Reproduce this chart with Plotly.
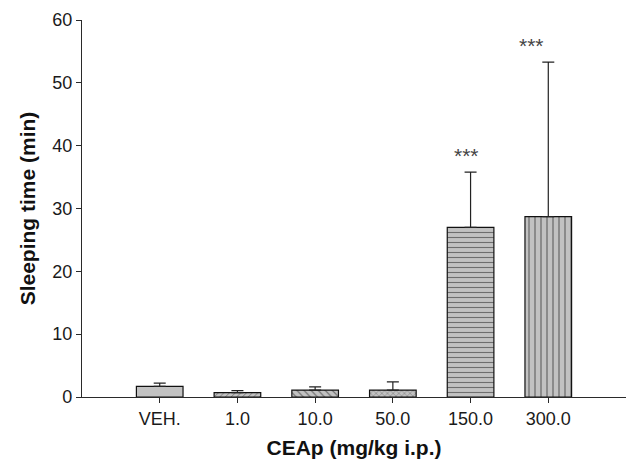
import plotly.graph_objects as go

categories = ["VEH.", "1.0", "10.0", "50.0", "150.0", "300.0"]
sleep_mean = [1.7, 0.7, 1.1, 1.1, 27.0, 28.7]
sleep_sem = [0.5, 0.3, 0.5, 1.3, 8.8, 24.6]
significance = ["", "", "", "", "***", "***"]
y_ticks = [0, 10, 20, 30, 40, 50, 60]

patterns = ["", "/", "\\", "x", "-", "|"]
pattern_sizes = [6, 4, 5, 4, 5, 6]

FONT = "Liberation Sans, Arial, sans-serif"
AXIS_COLOR = "#2a2a2a"

fig = go.Figure()
fig.add_trace(go.Bar(
    x=list(range(len(categories))),
    y=sleep_mean,
    width=0.6,
    marker=dict(
        color="#c2c2c2",
        line=dict(color="#111111", width=1.2),
        pattern=dict(shape=patterns, size=pattern_sizes, fgcolor="#1a1a1a",
                     solidity=0.22),
    ),
    error_y=dict(type="data", symmetric=False, array=sleep_sem,
                 arrayminus=[0] * len(sleep_sem),
                 color="#222222", thickness=1.2, width=6),
    showlegend=False,
))

shifts = [0, 0, 0, 0, -4, -17]
for i, (m, s, lab) in enumerate(zip(sleep_mean, sleep_sem, significance)):
    if lab:
        fig.add_annotation(x=i, y=m + s, text=lab, showarrow=False,
                           xanchor="center", yanchor="bottom",
                           xshift=shifts[i], yshift=3,
                           font=dict(family=FONT, size=21, color="#444444"))

fig.update_layout(
    width=636, height=467,
    margin=dict(l=82, r=10, t=16, b=70),
    paper_bgcolor="white", plot_bgcolor="white",
    font=dict(family=FONT, color="#1a1a1a"),
    bargap=0.4,
)
fig.update_xaxes(
    range=[-1, 6],
    tickmode="array", tickvals=list(range(len(categories))), ticktext=categories,
    ticks="outside", ticklen=5, tickcolor=AXIS_COLOR, tickwidth=1,
    showline=True, linecolor=AXIS_COLOR, linewidth=1.2,
    showgrid=False, zeroline=False,
    tickfont=dict(family=FONT, size=18, color="#1a1a1a"),
    title=dict(text="<b>CEAp (mg/kg i.p.)</b>", standoff=12,
               font=dict(family=FONT, size=21, color="#111111")),
)
fig.update_yaxes(
    range=[0, 60],
    tickmode="array", tickvals=y_ticks,
    ticks="outside", ticklen=5, tickcolor=AXIS_COLOR, tickwidth=1,
    showline=True, linecolor=AXIS_COLOR, linewidth=1.2,
    showgrid=False, zeroline=False,
    tickfont=dict(family=FONT, size=18, color="#1a1a1a"),
    title=dict(text="<b>Sleeping time (min)</b>", standoff=10,
               font=dict(family=FONT, size=21, color="#111111")),
)

fig.write_html("out.html")
